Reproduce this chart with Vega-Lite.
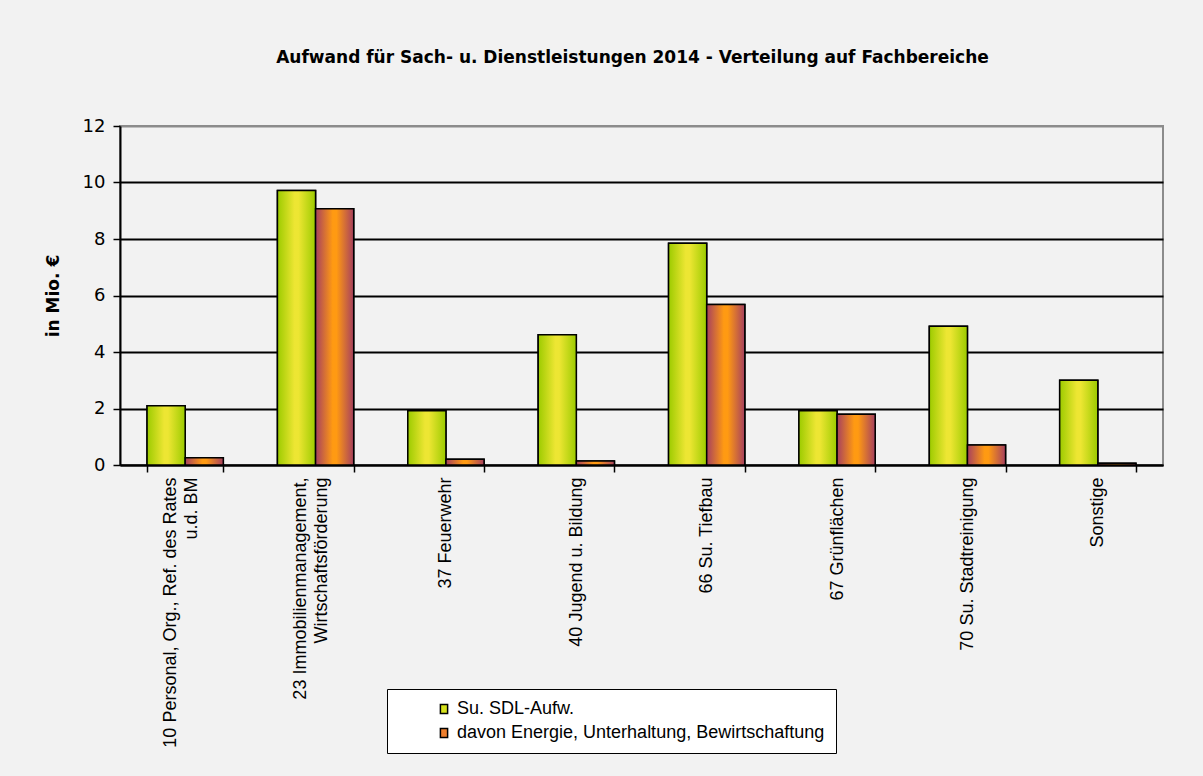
{
  "$schema": "https://vega.github.io/schema/vega-lite/v6.json",
  "width": 1043,
  "height": 339,
  "autosize": {"type": "none"},
  "padding": {"left": 120, "top": 126, "right": 40, "bottom": 311},
  "background": "#f2f2f2",
  "title": {
    "text": "Aufwand für Sach- u. Dienstleistungen 2014 - Verteilung auf Fachbereiche",
    "font": "DejaVu Sans",
    "fontSize": 17,
    "fontWeight": "bold",
    "color": "black",
    "anchor": "middle",
    "dx": -9,
    "offset": 50
  },
  "data": {
    "values": [
      {"Fachbereich": "10 Personal, Org., Ref. des Rates|u.d. BM", "Reihe": "Su. SDL-Aufw.", "Wert": 2.1},
      {"Fachbereich": "10 Personal, Org., Ref. des Rates|u.d. BM", "Reihe": "davon Energie, Unterhaltung, Bewirtschaftung", "Wert": 0.26},
      {"Fachbereich": "23 Immobilienmanagement,|Wirtschaftsförderung", "Reihe": "Su. SDL-Aufw.", "Wert": 9.72},
      {"Fachbereich": "23 Immobilienmanagement,|Wirtschaftsförderung", "Reihe": "davon Energie, Unterhaltung, Bewirtschaftung", "Wert": 9.07},
      {"Fachbereich": "37 Feuerwehr", "Reihe": "Su. SDL-Aufw.", "Wert": 1.92},
      {"Fachbereich": "37 Feuerwehr", "Reihe": "davon Energie, Unterhaltung, Bewirtschaftung", "Wert": 0.2},
      {"Fachbereich": "40 Jugend u. Bildung", "Reihe": "Su. SDL-Aufw.", "Wert": 4.61},
      {"Fachbereich": "40 Jugend u. Bildung", "Reihe": "davon Energie, Unterhaltung, Bewirtschaftung", "Wert": 0.14},
      {"Fachbereich": "66 Su. Tiefbau", "Reihe": "Su. SDL-Aufw.", "Wert": 7.85},
      {"Fachbereich": "66 Su. Tiefbau", "Reihe": "davon Energie, Unterhaltung, Bewirtschaftung", "Wert": 5.68},
      {"Fachbereich": "67 Grünflächen", "Reihe": "Su. SDL-Aufw.", "Wert": 1.92},
      {"Fachbereich": "67 Grünflächen", "Reihe": "davon Energie, Unterhaltung, Bewirtschaftung", "Wert": 1.8},
      {"Fachbereich": "70 Su. Stadtreinigung", "Reihe": "Su. SDL-Aufw.", "Wert": 4.91},
      {"Fachbereich": "70 Su. Stadtreinigung", "Reihe": "davon Energie, Unterhaltung, Bewirtschaftung", "Wert": 0.71},
      {"Fachbereich": "Sonstige", "Reihe": "Su. SDL-Aufw.", "Wert": 3.0},
      {"Fachbereich": "Sonstige", "Reihe": "davon Energie, Unterhaltung, Bewirtschaftung", "Wert": 0.06}
    ]
  },
  "encoding": {
    "x": {
      "field": "Fachbereich",
      "type": "nominal",
      "sort": null,
      "scale": {"paddingInner": 0.415, "paddingOuter": 0.2075},
      "axis": {
        "title": null,
        "labelAngle": -90,
        "labelExpr": "split(datum.label, '|')",
        "labelFont": "Liberation Sans",
        "labelFontSize": 18,
        "labelColor": "black",
        "labelLimit": 400,
        "labelPadding": 5,
        "labelLineHeight": 21,
        "labelOffset": {"condition": {"test": "indexof(datum.value + '', '|') >= 0", "value": -15}, "value": 0},
        "tickBand": "extent",
        "tickColor": "black",
        "tickSize": 7,
        "tickWidth": 1.5,
        "domainColor": "black",
        "domainWidth": 2,
        "grid": false
      }
    },
    "xOffset": {
      "field": "Reihe",
      "type": "nominal",
      "sort": ["Su. SDL-Aufw.", "davon Energie, Unterhaltung, Bewirtschaftung"],
      "scale": {"paddingInner": 0, "paddingOuter": 0}
    },
    "y": {
      "field": "Wert",
      "type": "quantitative",
      "scale": {"domain": [0, 12], "nice": false},
      "axis": {
        "title": "in Mio. €",
        "titleFont": "DejaVu Sans",
        "titleFontSize": 17,
        "titleFontWeight": "bold",
        "titleColor": "black",
        "titlePadding": 20,
        "values": [0, 2, 4, 6, 8, 10, 12],
        "labelFont": "DejaVu Sans",
        "labelFontSize": 18,
        "labelColor": "black",
        "labelPadding": 8,
        "tickColor": "black",
        "tickSize": 7,
        "tickWidth": 1.5,
        "domainColor": "black",
        "domainWidth": 2,
        "grid": true,
        "gridColor": {"condition": {"test": "datum.value == 12", "value": "#8c8c8c"}, "value": "black"},
        "gridWidth": 1.8
      }
    }
  },
  "layer": [
    {
      "mark": {"type": "bar", "stroke": "black", "strokeWidth": 1.5},
      "encoding": {
        "color": {
          "field": "Reihe",
          "type": "nominal",
          "sort": ["Su. SDL-Aufw.", "davon Energie, Unterhaltung, Bewirtschaftung"],
          "scale": {"domain": ["Su. SDL-Aufw.", "davon Energie, Unterhaltung, Bewirtschaftung"], "range": ["#d6e21c", "#ee7f2e"]},
          "legend": {
            "title": null,
            "orient": "none",
            "legendX": 267,
            "legendY": 563,
            "direction": "vertical",
            "fillColor": "white",
            "strokeColor": "black",
            "padding": 11,
            "symbolOffset": 37,
            "symbolType": "M-0.8,-1H0.8V1H-0.8Z",
            "symbolSize": 81,
            "symbolStrokeColor": "black",
            "symbolStrokeWidth": 1.5,
            "labelFont": "Liberation Sans",
            "labelFontSize": 18,
            "labelColor": "black",
            "labelOffset": 4,
            "labelLimit": 500,
            "rowPadding": 6
          }
        }
      }
    },
    {
      "transform": [{"filter": "datum.Reihe === 'Su. SDL-Aufw.'"}],
      "mark": {
        "type": "bar",
        "stroke": "black",
        "strokeWidth": 1.5,
        "color": {
          "gradient": "linear", "x1": 0, "y1": 0, "x2": 1, "y2": 0,
          "stops": [
            {"offset": 0, "color": "#9ccb00"},
            {"offset": 0.45, "color": "#ede633"},
            {"offset": 0.55, "color": "#ede633"},
            {"offset": 1, "color": "#9ccb00"}
          ]
        }
      }
    },
    {
      "transform": [{"filter": "datum.Reihe !== 'Su. SDL-Aufw.'"}],
      "mark": {
        "type": "bar",
        "stroke": "black",
        "strokeWidth": 1.5,
        "color": {
          "gradient": "linear", "x1": 0, "y1": 0, "x2": 1, "y2": 0,
          "stops": [
            {"offset": 0, "color": "#a6405f"},
            {"offset": 0.45, "color": "#ff9a12"},
            {"offset": 0.55, "color": "#ff9a12"},
            {"offset": 1, "color": "#a6405f"}
          ]
        }
      }
    }
  ],
  "config": {
    "view": {"stroke": "#8c8c8c", "strokeWidth": 2}
  }
}
